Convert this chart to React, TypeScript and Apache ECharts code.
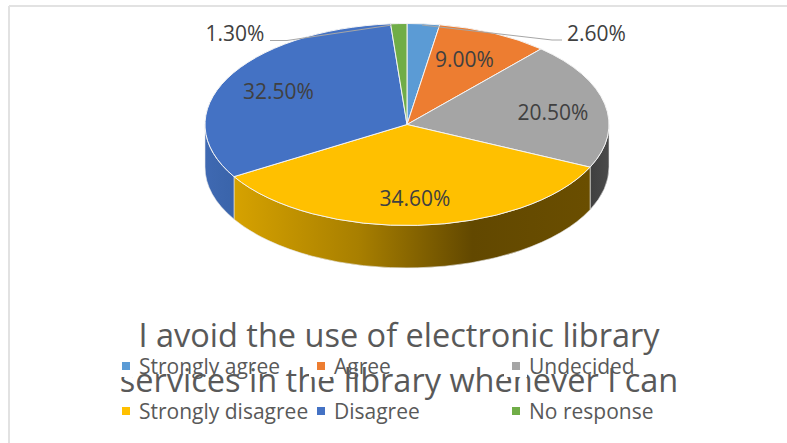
import React, { useEffect, useRef } from "react";
import * as echarts from "echarts";

const categories = ["Strongly agree", "Agree", "Undecided", "Strongly disagree", "Disagree", "No response"];
const shares = [2.6, 9.0, 20.5, 34.6, 32.5, 1.3];
const colors = ["#5B9BD5", "#ED7D31", "#A5A5A5", "#FFC000", "#4472C4", "#70AD47"];
const titleLines = ["I avoid the use of electronic library", "services in the library whenever I can"];

// Label anchors for each slice, in page pixels.
const labelAnchors = [[596.5, 33], [464.5, 59], [553, 112], [415, 198], [278.5, 91], [235, 33]];
// Leader lines for the two thin slices whose labels sit outside the disc.
const leaders: Record<number, number[][]> = {
  0: [[422, 25], [552, 40], [562, 40]],
  5: [[270, 40.5], [287, 40.5], [392, 25]],
};

const FONT = "Open Sans";
const TEXT = "#595959";
const CX = 407;
const CY = 124.5;
const RX = 202;
const RY = 101;
const DEPTH = 42.5;

const total = shares.reduce((s, v) => s + v, 0);
const starts: number[] = [];
shares.reduce((acc, v, i) => {
  starts[i] = (acc / total) * Math.PI * 2;
  return acc + v;
}, 0);
const endOf = (i: number) => starts[i] + (shares[i] / total) * Math.PI * 2;

const px = (a: number) => CX + RX * Math.sin(a);
const py = (a: number) => CY - RY * Math.cos(a);

function topPath(a: number, b: number) {
  const large = b - a > Math.PI ? 1 : 0;
  return `M${CX} ${CY}L${px(a)} ${py(a)}A${RX} ${RY} 0 ${large} 1 ${px(b)} ${py(b)}Z`;
}

function wallPath(a: number, b: number) {
  return (
    `M${px(a)} ${py(a)}A${RX} ${RY} 0 0 1 ${px(b)} ${py(b)}` +
    `L${px(b)} ${py(b) + DEPTH}A${RX} ${RY} 0 0 0 ${px(a)} ${py(a) + DEPTH}Z`
  );
}

const hGrad = (stops: [number, string][]) => ({
  type: "linear",
  x: 0,
  y: 0,
  x2: 1,
  y2: 0,
  colorStops: stops.map(([offset, color]) => ({ offset, color })),
});

// Side-wall shading per slice; only slices reaching the front half show one.
const wallFills: Record<number, any> = {
  2: hGrad([[0, "#3f3f3f"], [1, "#4a4a4a"]]),
  3: hGrad([[0, "#d6a200"], [0.35, "#a87f00"], [0.67, "#624800"], [1, "#6a4e00"]]),
  4: hGrad([[0, "#3f69b2"], [1, "#3a64aa"]]),
};

function sliceSeries(i: number) {
  return {
    type: "custom",
    name: categories[i],
    coordinateSystem: "none",
    silent: true,
    itemStyle: { color: colors[i] },
    data: [[shares[i]]],
    renderItem: () => {
      const a = starts[i];
      const b = endOf(i);
      const children: any[] = [];
      const wa = Math.max(a, Math.PI / 2);
      const wb = Math.min(b, (Math.PI * 3) / 2);
      if (wb > wa) {
        children.push({
          type: "path",
          shape: { pathData: wallPath(wa, wb) },
          style: { fill: wallFills[i], stroke: "#e8e8e8", lineWidth: 0.6 },
        });
      }
      children.push({
        type: "path",
        shape: { pathData: topPath(a, b) },
        style: { fill: colors[i], stroke: "#f4f4f4", lineWidth: 1 },
      });
      return { type: "group", children };
    },
  };
}

const labelSeries = {
  type: "custom",
  name: "labels",
  coordinateSystem: "none",
  silent: true,
  data: shares.map((v) => [v]),
  renderItem: (params: any) => {
    const i = params.dataIndex;
    const children: any[] = [];
    if (leaders[i]) {
      children.push({
        type: "polyline",
        shape: { points: leaders[i] },
        style: { fill: "none", stroke: "#a6a6a6", lineWidth: 1 },
      });
    }
    children.push({
      type: "text",
      x: labelAnchors[i][0],
      y: labelAnchors[i][1],
      style: {
        text: `${shares[i].toFixed(2)}%`,
        fill: "#404040",
        font: `21px "${FONT}"`,
        align: "center",
        verticalAlign: "middle",
      },
    });
    return { type: "group", children };
  },
};

const legendColumn = (left: number, names: string[]) => ({
  type: "plain",
  orient: "vertical",
  left,
  top: 355,
  z: 8,
  padding: 0,
  itemGap: 23,
  itemWidth: 8,
  itemHeight: 8,
  icon: "rect",
  selectedMode: false,
  data: names,
  textStyle: { color: TEXT, fontFamily: FONT, fontSize: 21, padding: [0, 0, 0, 4], lineHeight: 22 },
});

// White cells behind the first-row legend keys, above the title.
const keyBacks = [114, 309, 504].map((x) => ({
  type: "rect",
  z: 7,
  shape: { x, y: 355, width: 23, height: 22 },
  style: { fill: "#ffffff" },
}));

const frame = [
  { type: "line", shape: { x1: 9, y1: 6, x2: 787, y2: 6 }, style: { stroke: "#e2e2e2", lineWidth: 2 } },
  { type: "line", shape: { x1: 9, y1: 6, x2: 9, y2: 443 }, style: { stroke: "#e2e2e2", lineWidth: 2 } },
];

export default function App() {
  const ref = useRef<HTMLDivElement>(null);

  useEffect(() => {
    document.body.style.margin = "0";
    const chart = echarts.init(ref.current!, null, { renderer: "svg" });
    chart.setOption({
      animation: false,
      backgroundColor: "#ffffff",
      title: {
        text: titleLines.join("\n"),
        left: 394,
        top: 307,
        z: 6,
        textAlign: "center",
        textStyle: { color: TEXT, fontFamily: FONT, fontSize: 32.5, fontWeight: "normal", lineHeight: 45 },
      },
      legend: [
        legendColumn(122, [categories[0], categories[3]]),
        legendColumn(317, [categories[1], categories[4]]),
        legendColumn(512, [categories[2], categories[5]]),
      ],
      graphic: { elements: [...frame, ...keyBacks] },
      series: [...categories.map((_, i) => sliceSeries(i)), labelSeries],
    });
    return () => chart.dispose();
  }, []);

  return <div ref={ref} style={{ width: 787, height: 443 }} />;
}
